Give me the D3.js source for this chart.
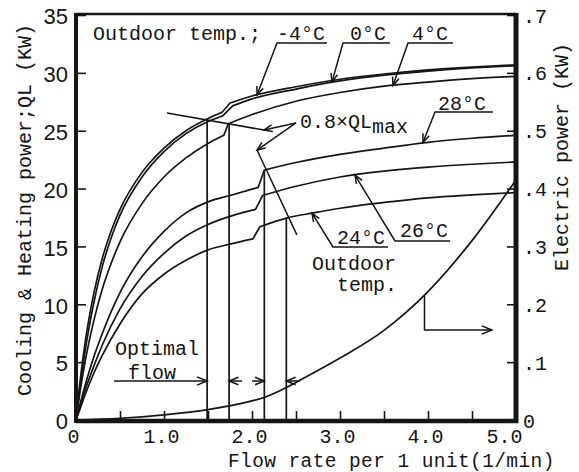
<!DOCTYPE html>
<html><head><meta charset="utf-8">
<script src="https://cdn.jsdelivr.net/npm/d3@7"></script>
<style>
html,body{margin:0;padding:0;background:#fff;}
svg{display:block;}
</style></head><body>
<svg id="chart" width="579" height="472"></svg>
<script>
// ---------------- data ----------------
const flowTicks = [0, 0.5, 1, 1.5, 2, 2.5, 3, 3.5, 4, 4.5, 5];
const flowTickLabels = ["0", "", "1.0", "", "2.0", "", "3.0", "", "4.0", "", "5.0"];
const qlTicks = [0, 5, 10, 15, 20, 25, 30, 35];
const qlTickLabels = ["0", "5", "10", "15", "20", "25", "30", "35"];
const powerTicks = [0, 0.1, 0.2, 0.3, 0.4, 0.5, 0.6, 0.7];
const powerTickLabels = ["0", ".1", ".2", ".3", ".4", ".5", ".6", ".7"];

// heating, outdoor -4°C  [flow, QL]
const heatM4Pre  = [[0,0],[0.05,3.6],[0.1,6.5],[0.2,10.85],[0.3,14.0],[0.4,16.35],[0.5,18.2],[0.75,21.4],[1.0,23.5],[1.25,25.0],[1.5,26.05],[1.66,26.6]];
const heatM4Post = [[1.75,27.4],[2.0,28.0],[2.5,28.8],[3.0,29.45],[3.5,29.9],[4.0,30.25],[4.5,30.5],[5.0,30.7]];
// heating, outdoor 0°C
const heat0Pre   = [[0,0],[0.05,3.1],[0.1,5.8],[0.2,10.05],[0.3,13.3],[0.4,15.75],[0.5,17.7],[0.75,21.0],[1.0,23.2],[1.25,24.75],[1.5,25.8],[1.67,26.3]];
const heat0Post  = [[1.78,27.15],[2.0,27.75],[2.5,28.6],[3.0,29.3],[3.5,29.8],[4.0,30.15],[4.5,30.42],[5.0,30.62]];
// heating, outdoor 4°C
const heat4Pre   = [[0,0],[0.05,2.65],[0.1,4.9],[0.2,8.5],[0.3,11.35],[0.4,13.55],[0.5,15.4],[0.75,18.7],[1.0,21.0],[1.25,22.65],[1.5,23.9],[1.68,24.6]];
const heat4Post  = [[1.73,25.6],[2.0,26.4],[2.5,27.55],[3.0,28.3],[3.5,28.85],[4.0,29.2],[4.5,29.5],[5.0,29.7]];
// cooling, outdoor 28°C
const cool28Pre  = [[0,0],[0.05,1.5],[0.1,2.9],[0.2,5.4],[0.3,7.5],[0.5,11.0],[0.75,14.1],[1.0,16.3],[1.25,17.9],[1.5,18.85],[1.75,19.4],[2.07,20.1]];
const cool28Post = [[2.14,21.6],[2.5,22.25],[3.0,22.95],[3.5,23.5],[4.0,24.0],[4.5,24.35],[5.0,24.6]];
// cooling, outdoor 26°C
const cool26Pre  = [[0,0],[0.05,1.3],[0.1,2.5],[0.2,4.6],[0.3,6.5],[0.5,9.6],[0.75,12.4],[1.0,14.4],[1.25,15.9],[1.5,16.9],[1.75,17.6],[2.04,18.2]];
const cool26Post = [[2.12,19.4],[2.5,20.2],[3.0,21.0],[3.5,21.5],[4.0,21.85],[4.5,22.1],[5.0,22.3]];
// cooling, outdoor 24°C
const cool24Pre  = [[0,0],[0.05,1.05],[0.1,2.1],[0.2,4.0],[0.3,5.6],[0.5,8.3],[0.75,10.9],[1.0,12.6],[1.25,13.8],[1.5,14.7],[1.75,15.2],[2.01,15.65]];
const cool24Post = [[2.09,16.7],[2.39,17.45],[2.7,17.9],[3.0,18.3],[3.5,18.8],[4.0,19.2],[4.5,19.45],[5.0,19.65]];

// electric power (right axis, kW)
const powerFlow = [0, 0.5, 1.0, 1.5, 2.0, 2.14, 2.39, 2.5, 3.0, 3.5, 4.0, 4.5, 5.0];
const powerKW   = [0, 0.003, 0.009, 0.018, 0.033, 0.039, 0.056, 0.065, 0.107, 0.155, 0.222, 0.31, 0.415];

// optimal flows and the QL at which each vertical line stops
const optimalFlows = [1.49, 1.74, 2.14, 2.39];
const optimalQL    = [26.0, 25.6, 21.6, 17.45];

// 0.8 x QLmax lines [flow, QL]
const qlmaxHeatLine = [[1.034, 26.53], [2.136, 25.06]];
const qlmaxCoolLine = [[2.057, 23.33], [2.51, 16.0]];

// ---------------- layout ----------------
const svg = d3.select("#chart");
const x  = d3.scaleLinear().domain([0, 5]).range([76, 516]);
const yQ = d3.scaleLinear().domain([0, 35]).range([420, 15]);
const yP = d3.scaleLinear().domain([0, 0.7]).range([420, 15]);
const MONO = "'Liberation Mono','DejaVu Sans Mono',monospace";
const SANS = "'Liberation Sans','DejaVu Sans',sans-serif";
const INK = "#151515";
const LW = 1.7;

const qLine = d3.line().x(d => x(d[0])).y(d => yQ(d[1])).curve(d3.curveMonotoneX);
const straight = d3.line().x(d => x(d[0])).y(d => yQ(d[1]));

function drawCurve(pre, post) {
  const d = qLine(pre) + qLine(post).replace(/^M/, "L");
  svg.append("path").attr("d", d).attr("fill", "none")
    .attr("stroke", INK).attr("stroke-width", LW).attr("stroke-linejoin", "round");
}
function head(tip, from, len = 9, ang = 22) {
  const a = Math.atan2(from[1] - tip[1], from[0] - tip[0]);
  const r = ang * Math.PI / 180;
  const p1 = [tip[0] + len * Math.cos(a + r), tip[1] + len * Math.sin(a + r)];
  const p2 = [tip[0] + len * Math.cos(a - r), tip[1] + len * Math.sin(a - r)];
  svg.append("path").attr("d", d3.line()([p1, tip, p2])).attr("fill", "none")
    .attr("stroke", INK).attr("stroke-width", 1.5).attr("stroke-linejoin", "miter");
}
function arrow(pts, yS = yQ, len = 9) {
  const p = pts.map(d => [x(d[0]), yS(d[1])]);
  svg.append("path").attr("d", d3.line()(p)).attr("fill", "none")
    .attr("stroke", INK).attr("stroke-width", 1.5);
  head(p[p.length - 1], p[p.length - 2], len);
}
function label(txt, f, q, opts = {}) {
  return svg.append("text").attr("x", x(f)).attr("y", yQ(q))
    .attr("font-family", MONO).attr("font-size", opts.size || 20)
    .attr("fill", INK).attr("text-anchor", opts.anchor || "start").text(txt);
}

// ---------------- curves ----------------
drawCurve(heatM4Pre, heatM4Post);
drawCurve(heat0Pre, heat0Post);
drawCurve(heat4Pre, heat4Post);
drawCurve(cool28Pre, cool28Post);
drawCurve(cool26Pre, cool26Post);
drawCurve(cool24Pre, cool24Post);

const pLine = d3.line().x((d, i) => x(powerFlow[i])).y(d => yP(d)).curve(d3.curveMonotoneX);
svg.append("path").attr("d", pLine(powerKW)).attr("fill", "none")
  .attr("stroke", INK).attr("stroke-width", LW);

// optimal flow verticals
optimalFlows.forEach((f, i) => {
  svg.append("path").attr("d", straight([[f, 0], [f, optimalQL[i]]]))
    .attr("stroke", INK).attr("stroke-width", LW).attr("fill", "none");
});

// 0.8 QLmax lines
svg.append("path").attr("d", straight(qlmaxHeatLine)).attr("stroke", INK).attr("stroke-width", 1.5).attr("fill", "none");
svg.append("path").attr("d", straight(qlmaxCoolLine)).attr("stroke", INK).attr("stroke-width", 1.5).attr("fill", "none");

// ---------------- annotations ----------------
label("Outdoor temp.;", 0.193, 32.84);
label("-4°C", 2.284, 32.84);
label("0°C", 3.114, 32.84);
label("4°C", 3.818, 32.84);
arrow([[2.852, 32.58], [2.284, 32.58], [2.057, 28.09]]);
arrow([[3.568, 32.58], [3.034, 32.58], [2.909, 29.22]]);
arrow([[4.284, 32.58], [3.773, 32.58], [3.602, 28.9]]);

label("28°C", 4.114, 26.79);
arrow([[4.739, 26.62], [4.08, 26.62], [3.943, 24.0]]);

label("26°C", 3.682, 15.81);
arrow([[4.25, 15.47], [3.625, 15.47], [3.17, 21.17]]);
label("24°C", 2.966, 15.21);
arrow([[3.545, 14.95], [2.92, 14.95], [2.682, 17.87]]);
label("Outdoor", 2.682, 12.96);
label("temp.", 2.966, 11.15);

const qlm = label("0.8×QL", 2.545, 25.23);
qlm.append("tspan").attr("dy", 5).text("max");
arrow([[2.5, 25.67], [2.136, 25.06]]);
arrow([[2.5, 25.67], [2.057, 23.33]]);

label("Optimal", 0.443, 5.62);
label("flow", 0.591, 3.54);
arrow([[0.432, 3.37], [optimalFlows[0], 3.37]], yQ, 11);
arrow([[1.886, 3.37], [optimalFlows[1], 3.37]], yQ, 10);
arrow([[2.0, 3.37], [optimalFlows[2], 3.37]], yQ, 10);
arrow([[2.545, 3.37], [optimalFlows[3], 3.37]], yQ, 10);

// power curve pointer to right axis
arrow([[3.96, 0.216], [3.96, 0.1556], [4.727, 0.1556]], yP, 11);

// ---------------- axes ----------------
const gl = svg.append("g").attr("transform", `translate(${x(0)},0)`)
  .call(d3.axisLeft(yQ).tickValues(qlTicks).tickSize(-10).tickPadding(8)
    .tickFormat((d, i) => qlTickLabels[i]));
gl.select(".domain").remove();
gl.selectAll("line").attr("stroke", INK).attr("stroke-width", 1.6);
gl.selectAll("text").attr("font-family", SANS).attr("font-size", 22).attr("fill", INK).attr("dy", "0.4em");

const gb = svg.append("g").attr("transform", `translate(0,${yQ(0)})`)
  .call(d3.axisBottom(x).tickValues(flowTicks).tickSize(-9).tickPadding(10)
    .tickFormat((d, i) => flowTickLabels[i]));
gb.select(".domain").remove();
gb.selectAll("line").attr("stroke", INK).attr("stroke-width", 1.6);
gb.selectAll("text").attr("font-family", MONO).attr("font-size", 20).attr("fill", INK)
  .attr("y", 23).attr("dy", 0).attr("dx", (d, i) => i === flowTicks.length - 1 ? -12 : -3);

const gr = svg.append("g").attr("transform", `translate(${x(5)},0)`)
  .call(d3.axisRight(yP).tickValues(powerTicks).tickSize(-9).tickPadding(7)
    .tickFormat((d, i) => powerTickLabels[i]));
gr.select(".domain").remove();
gr.selectAll("line").attr("stroke", INK).attr("stroke-width", 1.6);
gr.selectAll("text").attr("font-family", MONO).attr("font-size", 20).attr("fill", INK).attr("dy", "0.35em");

// frame
const fr = svg.append("g").attr("stroke", INK).attr("fill", "none");
fr.append("line").attr("x1", x(0)).attr("x2", x(5)).attr("y1", yQ(35) - 1).attr("y2", yQ(35) - 1).attr("stroke-width", 2.5);
fr.append("line").attr("x1", x(0)).attr("x2", x(5) + 2).attr("y1", yQ(0) + 1).attr("y2", yQ(0) + 1).attr("stroke-width", 4.5);
fr.append("line").attr("x1", x(0)).attr("x2", x(0)).attr("y1", yQ(35) - 2).attr("y2", yQ(0) + 3).attr("stroke-width", 4);
fr.append("line").attr("x1", x(5)).attr("x2", x(5)).attr("y1", yQ(35) - 2).attr("y2", yQ(0) + 3).attr("stroke-width", 5);

// axis titles
svg.append("text").attr("transform", "translate(31,210) rotate(-90)")
  .attr("text-anchor", "middle").attr("font-family", MONO).attr("font-size", 20).attr("fill", INK)
  .text("Cooling & Heating power;QL (KW)");
svg.append("text").attr("transform", "translate(568,157) rotate(-90)")
  .attr("text-anchor", "middle").attr("font-family", MONO).attr("font-size", 20).attr("fill", INK)
  .text("Electric power (KW)");
svg.append("text").attr("x", 228).attr("y", 467)
  .attr("font-family", MONO).attr("font-size", 19.5).attr("letter-spacing", 0.4).attr("fill", INK)
  .text("Flow rate per 1 unit(1/min)");
</script></body></html>
